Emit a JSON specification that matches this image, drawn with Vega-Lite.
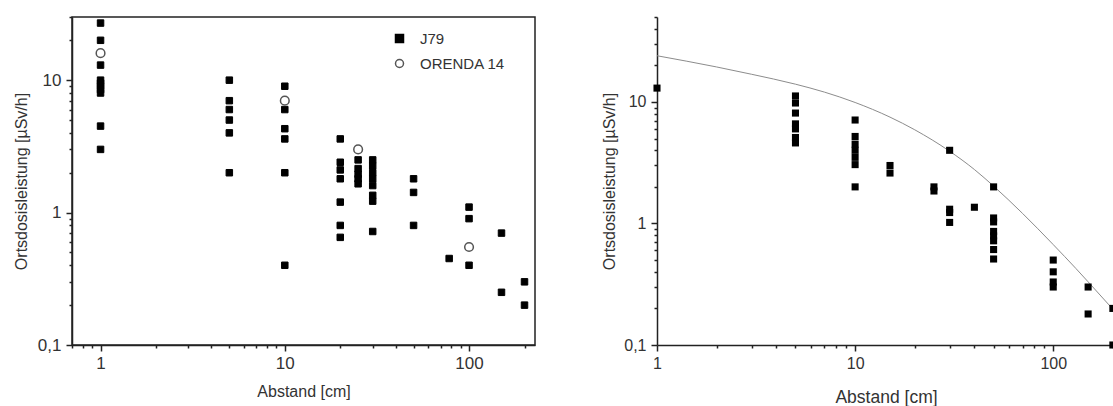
{
  "$schema": "https://vega.github.io/schema/vega-lite/v6.json",
  "background": "white",
  "padding": {"left": 12, "top": 7, "right": 0, "bottom": 0},
  "config": {
    "font": "Liberation Sans",
    "view": {"stroke": null},
    "axis": {
      "grid": false,
      "domainColor": "#222",
      "domainWidth": 1.5,
      "tickColor": "#222",
      "tickWidth": 1.5,
      "labelColor": "#333",
      "titleColor": "#333",
      "titleFontWeight": "normal",
      "labelOverlap": false,
      "labelFlush": false
    }
  },
  "spacing": 122,
  "bounds": "flush",
  "hconcat": [
    {
      "width": 463,
      "height": 328,
      "view": {"stroke": "#222", "strokeWidth": 1.5},
      "data": {"values": [
        {"abstand": 1, "wert": 27, "serie": "J79"},
        {"abstand": 1, "wert": 20, "serie": "J79"},
        {"abstand": 1, "wert": 13, "serie": "J79"},
        {"abstand": 1, "wert": 10, "serie": "J79"},
        {"abstand": 1, "wert": 9.5, "serie": "J79"},
        {"abstand": 1, "wert": 9, "serie": "J79"},
        {"abstand": 1, "wert": 8.5, "serie": "J79"},
        {"abstand": 1, "wert": 8, "serie": "J79"},
        {"abstand": 1, "wert": 4.5, "serie": "J79"},
        {"abstand": 1, "wert": 3, "serie": "J79"},
        {"abstand": 5, "wert": 10, "serie": "J79"},
        {"abstand": 5, "wert": 7, "serie": "J79"},
        {"abstand": 5, "wert": 6, "serie": "J79"},
        {"abstand": 5, "wert": 5, "serie": "J79"},
        {"abstand": 5, "wert": 4, "serie": "J79"},
        {"abstand": 5, "wert": 2, "serie": "J79"},
        {"abstand": 10, "wert": 9, "serie": "J79"},
        {"abstand": 10, "wert": 6, "serie": "J79"},
        {"abstand": 10, "wert": 4.3, "serie": "J79"},
        {"abstand": 10, "wert": 3.6, "serie": "J79"},
        {"abstand": 10, "wert": 2, "serie": "J79"},
        {"abstand": 10, "wert": 0.4, "serie": "J79"},
        {"abstand": 20, "wert": 3.6, "serie": "J79"},
        {"abstand": 20, "wert": 2.4, "serie": "J79"},
        {"abstand": 20, "wert": 2.1, "serie": "J79"},
        {"abstand": 20, "wert": 1.8, "serie": "J79"},
        {"abstand": 20, "wert": 1.2, "serie": "J79"},
        {"abstand": 20, "wert": 0.8, "serie": "J79"},
        {"abstand": 20, "wert": 0.65, "serie": "J79"},
        {"abstand": 25, "wert": 2.5, "serie": "J79"},
        {"abstand": 25, "wert": 2.15, "serie": "J79"},
        {"abstand": 25, "wert": 1.95, "serie": "J79"},
        {"abstand": 25, "wert": 1.8, "serie": "J79"},
        {"abstand": 25, "wert": 1.65, "serie": "J79"},
        {"abstand": 30, "wert": 2.5, "serie": "J79"},
        {"abstand": 30, "wert": 2.25, "serie": "J79"},
        {"abstand": 30, "wert": 2.0, "serie": "J79"},
        {"abstand": 30, "wert": 1.8, "serie": "J79"},
        {"abstand": 30, "wert": 1.6, "serie": "J79"},
        {"abstand": 30, "wert": 1.35, "serie": "J79"},
        {"abstand": 30, "wert": 1.22, "serie": "J79"},
        {"abstand": 30, "wert": 0.72, "serie": "J79"},
        {"abstand": 50, "wert": 1.8, "serie": "J79"},
        {"abstand": 50, "wert": 1.42, "serie": "J79"},
        {"abstand": 50, "wert": 0.8, "serie": "J79"},
        {"abstand": 78, "wert": 0.45, "serie": "J79"},
        {"abstand": 100, "wert": 1.1, "serie": "J79"},
        {"abstand": 100, "wert": 0.9, "serie": "J79"},
        {"abstand": 100, "wert": 0.4, "serie": "J79"},
        {"abstand": 150, "wert": 0.7, "serie": "J79"},
        {"abstand": 150, "wert": 0.25, "serie": "J79"},
        {"abstand": 200, "wert": 0.3, "serie": "J79"},
        {"abstand": 200, "wert": 0.2, "serie": "J79"},
        {"abstand": 1, "wert": 16, "serie": "ORENDA 14"},
        {"abstand": 10, "wert": 7, "serie": "ORENDA 14"},
        {"abstand": 25, "wert": 3.0, "serie": "ORENDA 14"},
        {"abstand": 100, "wert": 0.55, "serie": "ORENDA 14"}
      ]},
      "encoding": {
        "x": {
          "field": "abstand", "type": "quantitative",
          "scale": {"type": "log", "domain": [0.7, 228], "nice": false},
          "axis": {
            "title": "Abstand [cm]",
            "values": [0.7, 0.8, 0.9, 1, 2, 3, 4, 5, 6, 7, 8, 9, 10, 20, 30, 40, 50, 60, 70, 80, 90, 100, 200],
            "labelExpr": "datum.value == 1 ? '1' : datum.value == 10 ? '10' : datum.value == 100 ? '100' : ''",
            "tickSize": {"condition": {"test": "datum.value == 1 || datum.value == 10 || datum.value == 100", "value": 6}, "value": 3},
            "labelFontSize": 17,
            "titleFontSize": 16,
            "labelPadding": 4,
            "titlePadding": 12
          }
        },
        "y": {
          "field": "wert", "type": "quantitative",
          "scale": {"type": "log", "domain": [0.1, 30], "nice": false},
          "axis": {
            "title": "Ortsdosisleistung [µSv/h]",
            "values": [0.1, 0.2, 0.3, 0.4, 0.5, 0.6, 0.7, 0.8, 0.9, 1, 2, 3, 4, 5, 6, 7, 8, 9, 10, 20, 30],
            "labelExpr": "datum.value == 0.1 ? '0,1' : datum.value == 1 ? '1' : datum.value == 10 ? '10' : ''",
            "tickSize": {"condition": {"test": "datum.value == 0.1 || datum.value == 1 || datum.value == 10", "value": 6}, "value": 3},
            "labelFontSize": 17,
            "titleFontSize": 16,
            "labelPadding": 5,
            "titlePadding": 8
          }
        },
        "shape": {
          "field": "serie", "type": "nominal",
          "scale": {"domain": ["J79", "ORENDA 14"], "range": ["square", "circle"]},
          "legend": {"title": null, "orient": "none", "legendX": 320, "legendY": 14, "padding": 0, "labelFontSize": 15, "labelColor": "#333", "symbolSize": 64, "symbolStrokeWidth": 1.5, "rowPadding": 9, "labelOffset": 13}
        },
        "fill": {
          "field": "serie", "type": "nominal",
          "scale": {"domain": ["J79", "ORENDA 14"], "range": ["#000000", "#ffffff"]},
          "legend": {"title": null, "orient": "none", "legendX": 320, "legendY": 14, "padding": 0, "labelFontSize": 15, "labelColor": "#333", "symbolSize": 64, "symbolStrokeWidth": 1.5, "rowPadding": 9, "labelOffset": 13}
        },
        "stroke": {
          "field": "serie", "type": "nominal",
          "scale": {"domain": ["J79", "ORENDA 14"], "range": ["#000000", "#555555"]},
          "legend": {"title": null, "orient": "none", "legendX": 320, "legendY": 14, "padding": 0, "labelFontSize": 15, "labelColor": "#333", "symbolSize": 64, "symbolStrokeWidth": 1.5, "rowPadding": 9, "labelOffset": 13}
        }
      },
      "layer": [
        {
          "transform": [{"filter": "datum.serie == 'J79'"}],
          "mark": {"type": "point", "filled": true, "opacity": 1, "strokeWidth": 1, "size": 42}
        },
        {
          "transform": [{"filter": "datum.serie == 'ORENDA 14'"}],
          "mark": {"type": "point", "filled": true, "opacity": 1, "strokeWidth": 1.5, "size": 75}
        }
      ]
    },
    {
      "width": 458,
      "height": 328,
      "layer": [
        {
          "data": {"values": [
            {"abstand": 1, "wert": 24.0},
            {"abstand": 2, "wert": 19.4},
            {"abstand": 3, "wert": 16.9},
            {"abstand": 5, "wert": 14.0},
            {"abstand": 7, "wert": 12.05},
            {"abstand": 10, "wert": 9.9},
            {"abstand": 15, "wert": 7.5},
            {"abstand": 20, "wert": 5.9},
            {"abstand": 30, "wert": 3.93},
            {"abstand": 40, "wert": 2.78},
            {"abstand": 50, "wert": 2.03},
            {"abstand": 70, "wert": 1.21},
            {"abstand": 100, "wert": 0.67},
            {"abstand": 130, "wert": 0.427},
            {"abstand": 150, "wert": 0.331},
            {"abstand": 200, "wert": 0.197}
          ]},
          "mark": {"type": "line", "color": "#8c8c8c", "strokeWidth": 1, "interpolate": "monotone"},
          "encoding": {
            "x": {"field": "abstand", "type": "quantitative", "scale": {"type": "log", "domain": [1, 205], "nice": false}},
            "y": {"field": "wert", "type": "quantitative", "scale": {"type": "log", "domain": [0.1, 50], "nice": false}}
          }
        },
        {
          "data": {"values": [
            {"abstand": 1, "wert": 13},
            {"abstand": 5, "wert": 11.2},
            {"abstand": 5, "wert": 9.8},
            {"abstand": 5, "wert": 8.1},
            {"abstand": 5, "wert": 6.6},
            {"abstand": 5, "wert": 6.0},
            {"abstand": 5, "wert": 5.1},
            {"abstand": 5, "wert": 4.6},
            {"abstand": 10, "wert": 7.1},
            {"abstand": 10, "wert": 5.2},
            {"abstand": 10, "wert": 4.5},
            {"abstand": 10, "wert": 4.0},
            {"abstand": 10, "wert": 3.5},
            {"abstand": 10, "wert": 3.05},
            {"abstand": 10, "wert": 2.0},
            {"abstand": 15, "wert": 3.0},
            {"abstand": 15, "wert": 2.6},
            {"abstand": 25, "wert": 2.0},
            {"abstand": 25, "wert": 1.85},
            {"abstand": 30, "wert": 4.0},
            {"abstand": 30, "wert": 1.31},
            {"abstand": 30, "wert": 1.23},
            {"abstand": 30, "wert": 1.02},
            {"abstand": 40, "wert": 1.36},
            {"abstand": 50, "wert": 2.0},
            {"abstand": 50, "wert": 1.11},
            {"abstand": 50, "wert": 1.03},
            {"abstand": 50, "wert": 0.86},
            {"abstand": 50, "wert": 0.79},
            {"abstand": 50, "wert": 0.72},
            {"abstand": 50, "wert": 0.61},
            {"abstand": 50, "wert": 0.51},
            {"abstand": 100, "wert": 0.5},
            {"abstand": 100, "wert": 0.4},
            {"abstand": 100, "wert": 0.33},
            {"abstand": 100, "wert": 0.3},
            {"abstand": 150, "wert": 0.3},
            {"abstand": 150, "wert": 0.18},
            {"abstand": 200, "wert": 0.2},
            {"abstand": 200, "wert": 0.1}
          ]},
          "mark": {"type": "point", "shape": "square", "filled": true, "color": "#000", "opacity": 1, "size": 50},
          "encoding": {
            "x": {
              "field": "abstand", "type": "quantitative",
              "scale": {"type": "log", "domain": [1, 205], "nice": false},
              "axis": {
                "title": "Abstand [cm]",
                "values": [1, 2, 3, 4, 5, 6, 7, 8, 9, 10, 20, 30, 40, 50, 60, 70, 80, 90, 100, 200],
                "labelExpr": "datum.value == 1 ? '1' : datum.value == 10 ? '10' : datum.value == 100 ? '100' : ''",
                "tickSize": {"condition": {"test": "datum.value == 1 || datum.value == 10 || datum.value == 100", "value": 6}, "value": 3},
                "labelFontSize": 16,
                "titleFontSize": 17.5,
                "labelPadding": 4,
                "titlePadding": 17
              }
            },
            "y": {
              "field": "wert", "type": "quantitative",
              "scale": {"type": "log", "domain": [0.1, 50], "nice": false},
              "axis": {
                "title": "Ortsdosisleistung [µSv/h]",
                "values": [0.1, 0.2, 0.3, 0.4, 0.5, 0.6, 0.7, 0.8, 0.9, 1, 2, 3, 4, 5, 6, 7, 8, 9, 10, 20, 30, 40, 50],
                "labelExpr": "datum.value == 0.1 ? '0,1' : datum.value == 1 ? '1' : datum.value == 10 ? '10' : ''",
                "tickSize": {"condition": {"test": "datum.value == 0.1 || datum.value == 1 || datum.value == 10", "value": 6}, "value": 3},
                "labelFontSize": 16,
                "titleFontSize": 16,
                "labelPadding": 5,
                "titlePadding": 6
              }
            }
          }
        }
      ]
    }
  ]
}
